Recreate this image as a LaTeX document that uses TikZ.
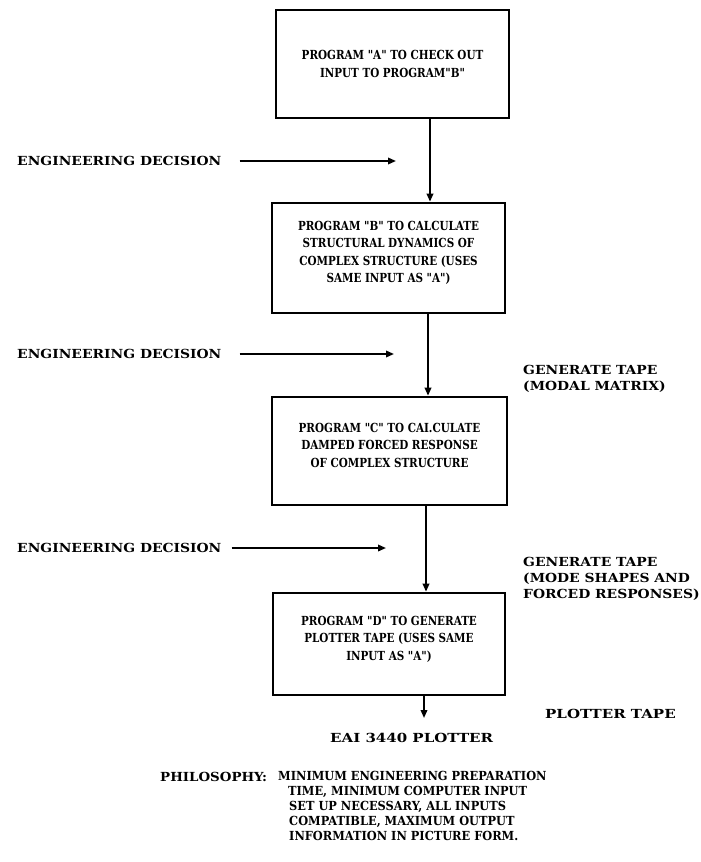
\documentclass[tikz,border=0pt]{standalone}
\usepackage{fontspec}
\setmainfont{DejaVu Serif}
\newfontfamily\boxfnt{DejaVu Serif Bold}[FakeStretch=0.83]
\newfontfamily\labfnt{DejaVu Serif Bold}[FakeStretch=1.11]
\newfontfamily\phfnt{DejaVu Serif Bold}[FakeStretch=0.91]
\newfontfamily\widefnt{DejaVu Serif Bold}[FakeStretch=1.2]
\newfontfamily\midfnt{DejaVu Serif Bold}[FakeStretch=1.07]
\usetikzlibrary{arrows.meta}
\begin{document}
\begin{tikzpicture}[x=1pt,y=-1pt,
  boxframe/.style={draw, line width=2.6pt, minimum width=#1, inner sep=0pt},
  boxtext/.style={inner sep=0pt, align=center, font=\boxfnt\fontsize{12.5}{17.5}\selectfont},
  lbl/.style={inner sep=0pt, anchor=west, align=left, font=\labfnt\fontsize{12.5}{16}\selectfont},
  arr/.style={line width=1.8pt, -{Triangle[length=8pt,width=6.5pt]}}]
\useasboundingbox (0,0) rectangle (701,862);
\node[boxframe=233pt, minimum height=108pt] (A) at (392.5,64) {};
\node[boxtext] (At) at (A.center) {PROGRAM "A" TO CHECK OUT\\INPUT TO PROGRAM"B"};
\node[boxframe=233pt, minimum height=110pt] (B) at (388.5,258) {};
\node[boxtext] (Bt) at ([yshift=5pt]B.center) {PROGRAM "B" TO CALCULATE\\STRUCTURAL DYNAMICS OF\\COMPLEX STRUCTURE (USES\\SAME INPUT AS "A")};
\node[boxframe=235pt, minimum height=108pt] (C) at (389.5,451) {};
\node[boxtext] (Ct) at ([yshift=6pt]C.center) {PROGRAM "C" TO CAI.CULATE\\DAMPED FORCED RESPONSE\\OF COMPLEX STRUCTURE};
\node[boxframe=232pt, minimum height=102pt] (D) at (389,644) {};
\node[boxtext] (Dt) at ([yshift=5pt]D.center) {PROGRAM "D" TO GENERATE\\PLOTTER TAPE (USES SAME\\INPUT AS "A")};
\draw[arr] ([xshift=37.5pt]A.south) -- ([xshift=41.5pt]B.north);
\draw[arr] ([xshift=39.5pt]B.south) -- ([xshift=38.5pt]C.north);
\draw[arr] ([xshift=36.5pt]C.south) -- ([xshift=37pt]D.north);
\coordinate (dend) at (424,718);
\draw[arr] ([xshift=35pt]D.south) -- (dend);
\node[lbl] (E1) at (17,161) {ENGINEERING DECISION};
\node[lbl] (E2) at (17,354) {ENGINEERING DECISION};
\node[lbl] (E3) at (17,548) {ENGINEERING DECISION};
\coordinate (e1) at (396,161);
\coordinate (e2) at (394,354);
\coordinate (e3) at (386,548);
\draw[arr] ([xshift=18pt]E1.east) -- (e1);
\draw[arr] ([xshift=18pt]E2.east) -- (e2);
\draw[arr] ([xshift=10pt]E3.east) -- (e3);
\node[lbl] (G1) at (523,379) {GENERATE TAPE\\(MODAL MATRIX)};
\node[lbl] (G2) at (523,579) {GENERATE TAPE\\(MODE SHAPES AND\\FORCED RESPONSES)};
\node[lbl, font=\widefnt\fontsize{12.5}{16}\selectfont] (PT) at (545,714) {PLOTTER TAPE};
\node[lbl, font=\widefnt\fontsize{12.5}{16}\selectfont] (EAI) at (330,738) {EAI 3440 PLOTTER};
\node[lbl, font=\midfnt\fontsize{12.5}{16}\selectfont] (PH) at (160,777) {PHILOSOPHY:};
\node[lbl, anchor=north west, font=\phfnt\fontsize{12.5}{15}\selectfont] (PHT) at (278,771) {MINIMUM ENGINEERING PREPARATION\\
\hspace*{10pt}TIME, MINIMUM COMPUTER INPUT\\
\hspace*{11pt}SET UP NECESSARY, ALL INPUTS\\
\hspace*{11pt}COMPATIBLE, MAXIMUM OUTPUT\\
\hspace*{11pt}INFORMATION IN PICTURE FORM.};
\end{tikzpicture}
\end{document}
